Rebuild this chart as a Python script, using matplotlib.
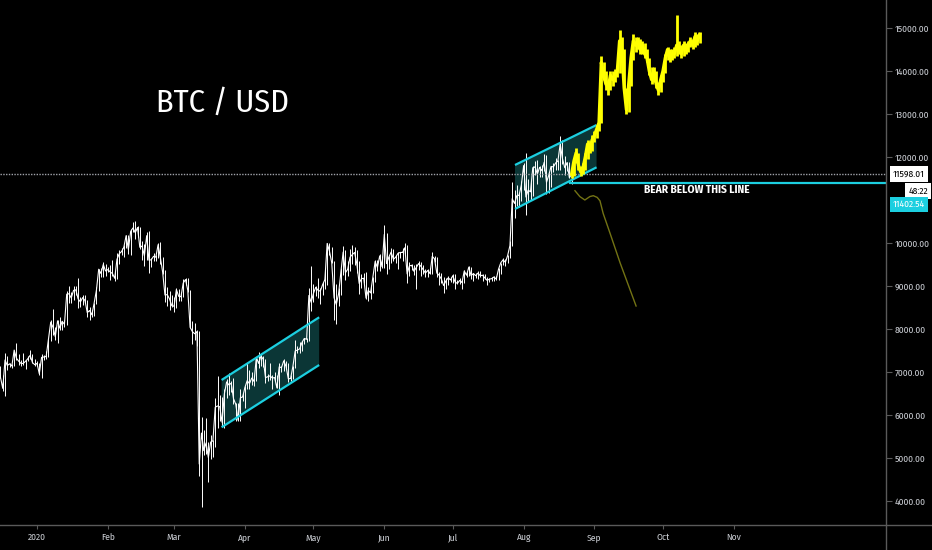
import matplotlib
matplotlib.use("Agg")
import matplotlib.pyplot as plt
import matplotlib.dates as mdates
from matplotlib import font_manager
from matplotlib.font_manager import FontProperties
from matplotlib.textpath import TextPath
from matplotlib.lines import Line2D
from matplotlib.ticker import FixedLocator, FuncFormatter
import pandas as pd

# ── Datos diarios BTC/USD (15 dic 2019 → 22 ago 2020) ────────────────
white_close = [
    7110, 6880, 6620, 7280, 7150, 7190, 7140, 7510, 7320, 7250, 7200, 7200, 7250, 7310, 7390, 7220, 7170,
    7200, 6960, 7340, 7350, 7360, 7760, 8160, 8040, 7820, 8190, 8020, 8180, 8110, 8810, 8820, 8720,
    8900, 8910, 8700, 8630, 8730, 8660, 8380, 8430, 8330, 8600, 8900, 9390, 9290, 9500, 9350,
    9380, 9330, 9290, 9180, 9620, 9750, 9800, 9900, 10170, 9850, 10270, 10350, 10240, 10360, 9900,
    9930, 9700, 10170, 9600, 9610, 9690, 9670, 9960, 9660, 9320, 8790, 8800, 8700, 8540,
    8530, 8920, 8760, 8750, 9070, 9150, 8900, 8040, 7940, 7890, 7940, 4860, 5580, 5170, 5350, 5010,
    5370, 5400, 6180, 6210, 6190, 5830, 6490, 6770, 6700, 6740, 6380, 6250, 5880, 6400, 6420,
    6640, 6800, 6730, 6860, 6780, 7340, 7200, 7370, 7300, 6870, 6890, 6910, 6860, 6870, 6630,
    7120, 7100, 7260, 7130, 6840, 6850, 7130, 7490, 7510, 7540, 7690, 7780, 7760, 8780, 8620,
    8830, 8970, 8900, 8880, 9030, 9150, 9990, 9810, 9540, 8730, 8570, 8820, 9320, 9790, 9310, 9390,
    9670, 9730, 9780, 9510, 9060, 9170, 9180, 8720, 8900, 8840, 9200, 9570, 9430, 9700, 9450,
    10200, 9520, 9670, 9790, 9620, 9670, 9760, 9780, 9780, 9890, 9280, 9470, 9480, 9340, 9430,
    9520, 9460, 9380, 9300, 9360, 9290, 9690, 9630, 9300, 9250, 9160, 9010, 9120, 9190, 9140,
    9240, 9090, 9060, 9130, 9080, 9350, 9250, 9440, 9240, 9290, 9240, 9300, 9240, 9250, 9190, 9130,
    9160, 9170, 9210, 9160, 9390, 9540, 9610, 9550, 9710, 9940, 11030, 10920, 11100, 11110, 11350,
    11800, 11070, 11230, 11190, 11750, 11770, 11600, 11760, 11680, 11880, 11410, 11580, 11780, 11770,
    11860, 11910, 12300, 11960, 11750, 11870, 11520, 11598.01,
]
white_high = [
    7190, 7140, 6940, 7440, 7380, 7220, 7190, 7520, 7680, 7430, 7270, 7440, 7290, 7370, 7520, 7420, 7310,
    7250, 7220, 7410, 7400, 7490, 7790, 8210, 8460, 8050, 8200, 8290, 8190, 8200, 8880, 8990, 8850,
    9010, 9000, 9190, 8740, 8780, 8800, 8670, 8520, 8440, 8610, 8980, 9400, 9420, 9560, 9520,
    9440, 9480, 9600, 9340, 9760, 9840, 9880, 9950, 10180, 10180, 10320, 10480, 10520, 10390, 10380,
    10050, 9980, 10250, 10280, 9660, 9770, 9720, 9990, 10020, 9670, 9370, 8970, 8890, 8790,
    8740, 8950, 8930, 8850, 9160, 9190, 9180, 8900, 8180, 8150, 7970, 7960, 5950, 5640, 5940, 5380,
    5540, 5420, 6400, 6900, 6460, 6410, 6600, 6840, 6980, 6790, 6870, 6290, 6270, 6600, 6520,
    6680, 7200, 7040, 6990, 6880, 7360, 7470, 7420, 7380, 7310, 6950, 7200, 6920, 6990, 6940,
    7200, 7150, 7300, 7260, 7220, 6930, 7150, 7740, 7610, 7700, 7710, 7790, 7790, 8950, 9470,
    9050, 9010, 9190, 8950, 9100, 9390, 9990, 9990, 9900, 9570, 9040, 8960, 9420, 9940, 9840, 9590,
    9870, 9950, 9900, 9840, 9570, 9270, 9300, 9320, 8980, 9020, 9220, 9600, 9600, 9740, 9700,
    10420, 10230, 9690, 9880, 9850, 9730, 9800, 9800, 9880, 9990, 9960, 9560, 9500, 9490, 9500,
    9580, 9560, 9480, 9400, 9400, 9420, 9780, 9690, 9670, 9320, 9300, 9200, 9190, 9230, 9200,
    9290, 9270, 9130, 9180, 9140, 9380, 9360, 9470, 9450, 9300, 9300, 9340, 9350, 9280, 9270, 9210,
    9180, 9200, 9230, 9230, 9430, 9540, 9650, 9630, 9730, 10050, 11410, 11240, 11340, 11170, 11450,
    11860, 12090, 11480, 11420, 11800, 11900, 11920, 11800, 11810, 12070, 12040, 11630, 11800, 11850,
    11970, 11920, 12480, 12390, 12030, 11880, 11880, 11690,
]
white_low = [
    7010, 6860, 6560, 6440, 7040, 7110, 7100, 7130, 7270, 7160, 7130, 7160, 7060, 7250, 7310, 7200, 7130,
    7150, 6920, 6870, 7280, 7310, 7350, 7730, 7870, 7750, 7670, 7970, 7970, 8040, 8100, 8600, 8610,
    8680, 8790, 8480, 8520, 8550, 8600, 8290, 8220, 8280, 8310, 8580, 8880, 9220, 9220, 9230,
    9320, 9150, 9230, 9120, 9170, 9520, 9720, 9670, 9880, 9740, 9710, 10250, 10090, 10140, 9850,
    9610, 9460, 9600, 9300, 9440, 9570, 9590, 9650, 9510, 9270, 8620, 8540, 8450, 8520,
    8400, 8500, 8660, 8650, 8750, 9020, 8860, 8030, 7640, 7740, 7600, 4580, 3850, 5080, 5100, 4440,
    4980, 5020, 5250, 5690, 5860, 5740, 5690, 6400, 6460, 6530, 6260, 5860, 5870, 5870, 6330,
    6160, 6600, 6610, 6690, 6680, 6780, 7090, 7150, 7110, 6750, 6780, 6810, 6600, 6790, 6620,
    6470, 7010, 7030, 7060, 6760, 6790, 6830, 7100, 7450, 7450, 7500, 7640, 7690, 7730, 8420,
    8620, 8760, 8720, 8580, 8780, 8940, 9030, 9720, 9530, 8200, 8120, 8540, 8800, 9260, 9150, 9230,
    9360, 9500, 9480, 9300, 8820, 8960, 9080, 8700, 8640, 8690, 8830, 9100, 9340, 9350, 9420,
    9420, 9270, 9400, 9530, 9580, 9540, 9390, 9640, 9570, 9730, 9070, 9240, 9370, 9250, 8920,
    9380, 9240, 9280, 9200, 9200, 9280, 9280, 9560, 9200, 9020, 9060, 8840, 8940, 9020, 9090,
    9080, 8940, 9040, 9050, 8940, 9060, 9220, 9240, 9160, 9120, 9190, 9170, 9200, 9120, 9160, 9020,
    9090, 9120, 9110, 9140, 9150, 9280, 9490, 9460, 9540, 9650, 9920, 10580, 10860, 10840, 10980,
    11230, 10660, 10970, 11000, 11100, 11580, 11370, 11530, 11530, 11680, 11130, 11160, 11300, 11640,
    11690, 11690, 11690, 11830, 11570, 11680, 11510, 11380,
]

# ── Proyección alcista (amarillo, 22 ago → 17 oct) ────────────────────
yellow_close = [
    11598, 11900, 12100, 11800, 11650, 11750, 12000, 12300, 12200, 12400,
    12500, 12650, 12800, 14200, 13900, 13700, 13600, 13900, 13800, 13900, 14000, 14700, 14500, 13600,
    13100, 13700, 14300, 14700, 14600, 14700, 14500, 14600, 14400, 14300, 14000, 13800, 14000, 13700,
    13550, 13800,
    14000, 14300, 14500, 14300, 14400, 14400, 14600, 14500, 14400, 14600, 14500, 14600, 14700, 14600,
    14800, 14700, 14850,
]
yellow_high = [
    11690, 11980, 12200, 12100, 11800, 11850, 12100, 12400, 12350, 12500,
    12600, 12750, 13000, 14350, 14200, 14000, 13800, 14000, 14000, 14050, 14100, 14950, 14800, 14500,
    13600, 13900, 14400, 14850, 14800, 14800, 14750, 14700, 14650, 14500, 14300, 14100, 14100, 14000,
    13750, 13900,
    14100, 14400, 14550, 14500, 14500, 14550, 15300, 14700, 14600, 14700, 14650, 14700, 14800, 14750,
    14900, 14850, 14900,
]
yellow_low = [
    11500, 11550, 11850, 11700, 11550, 11600, 11700, 11950, 12100, 12150,
    12350, 12450, 12600, 12800, 13800, 13550, 13450, 13550, 13650, 13750, 13850, 13950, 14400, 13500,
    13000, 13050, 13650, 14250, 14450, 14500, 14400, 14400, 14300, 14200, 13900, 13700, 13750, 13600,
    13450, 13500,
    13750, 13950, 14250, 14200, 14250, 14300, 14350, 14400, 14300, 14350, 14400, 14450, 14550, 14500,
    14550, 14600, 14650,
]

# ── Dibujos: canales, línea bajista, trayectoria bajista ──────────────
chan1_dates = ["2020-03-21 19:00", "2020-05-03 12:00"]
chan1_upper = [6814, 8272]
chan1_lower = [5714, 7163]
chan2_dates = ["2020-07-28 05:00", "2020-09-01 22:00"]
chan2_upper = [11814, 12744]
chan2_lower = [10791, 11760]

last_price = 11598.01
bear_level = 11402.54
bear_start = "2020-08-21 07:00"

bear_path_dates = ["2020-08-23 11:00", "2020-08-25 14:00", "2020-08-27 19:00", "2020-08-30 00:00",
                   "2020-08-31 12:00", "2020-09-02 05:00", "2020-09-03 10:00", "2020-09-04 19:00",
                   "2020-09-07 19:00", "2020-09-12 05:00", "2020-09-19 05:00"]
bear_path_price = [11216, 11080, 11000, 11080, 11100, 11060, 10980, 10690, 10230, 9540, 8535]

month_ticks = pd.date_range("2020-01-01", "2020-11-01", freq="MS")
price_ticks = [4000, 5000, 6000, 7000, 8000, 9000, 10000, 12000, 13000, 14000, 15000]

# ── Fuente: la estrecha cuyas proporciones se parecen más al original ─
_names = {f.name for f in font_manager.fontManager.ttflist}
_cands = [n for n in ["Archivo Narrow", "Roboto Condensed", "Fira Sans Condensed", "PT Sans Narrow",
                      "Asap Condensed", "Barlow Semi Condensed", "Encode Sans Condensed",
                      "IBM Plex Sans Condensed", "Open Sans Condensed", "Pragati Narrow"]
          if n in _names] or ["DejaVu Sans"]


def ink(text, fam, weight="normal"):
    return TextPath((0, 0), text, size=10, prop=FontProperties(family=fam, weight=weight)).get_extents()


def ratio(fam):
    return ink("BTC / USD", fam).width / ink("BTCUSD", fam).height


FONT = min(_cands, key=lambda f: abs(ratio(f) - 5.57))
plt.rcParams["font.family"] = [FONT, "DejaVu Sans"]


def size_for_width(text, px, weight="normal"):
    return 10 * px / ink(text, FONT, weight).width * 0.72


FS_TITLE = 10 * 23 / ink("BTCUSD", FONT).height * 0.72
FS_TICK = min(size_for_width("15000.00", 34), 9)
FS_BEAR = size_for_width("BEAR BELOW THIS LINE", 105, "bold")

# ── Colores ──────────────────────────────────────────────────────────
C_BG = "black"
C_CYAN = "#1ccfe0"
C_FILL = "#0b3636"
C_YEL = "#ffff00"
C_OLIVE = "#737314"
C_AXIS = "#5a5a5a"
C_TXT = "#c9ccd2"

W, H = 932, 550
fig = plt.figure(figsize=(W / 100, H / 100), dpi=100, facecolor=C_BG)
ax = fig.add_axes([0, 25 / H, 886 / W, 525 / H])
ax.set_facecolor(C_BG)

wd = pd.date_range("2019-12-15", periods=len(white_close), freq="D")
yd = pd.date_range("2020-08-22", periods=len(yellow_close), freq="D")

# canales
chans = [(chan1_dates, chan1_upper, chan1_lower), (chan2_dates, chan2_upper, chan2_lower)]
for dts, up, lo in chans:
    d = pd.to_datetime(dts)
    ax.fill([d[0], d[1], d[1], d[0]], [up[0], up[1], lo[1], lo[0]], color=C_FILL, lw=0, zorder=1)

# velas blancas (mecha + cierre)
ax.vlines(wd, white_low, white_high, colors="white", lw=0.7, zorder=2)
ax.plot(wd, white_close, color="white", lw=0.8, zorder=2)

for dts, up, lo in chans:
    d = pd.to_datetime(dts)
    ax.plot(d, up, color=C_CYAN, lw=1.6, zorder=4, solid_capstyle="butt")
    ax.plot(d, lo, color=C_CYAN, lw=1.6, zorder=4, solid_capstyle="butt")

# proyección amarilla
ax.vlines(yd, yellow_low, yellow_high, colors=C_YEL, lw=2.0, zorder=5)
ax.plot(yd, yellow_close, color=C_YEL, lw=2.4, zorder=5)

# trayectoria bajista
ax.plot(pd.to_datetime(bear_path_dates), bear_path_price, color=C_OLIVE, lw=1.0, zorder=3)

# niveles horizontales
ax.axhline(last_price, color="#a0a3aa", lw=1.0, ls=(0, (1, 1)), zorder=3)
x_end = pd.Timestamp("2020-01-01") + pd.Timedelta(days=371.6)
ax.plot([pd.Timestamp(bear_start), x_end], [bear_level, bear_level], color=C_CYAN, lw=1.6, zorder=4)
ax.text(pd.Timestamp("2020-10-16"), 11170, "BEAR BELOW THIS LINE", color="white",
        fontsize=FS_BEAR, fontweight="bold", ha="center", va="baseline", zorder=6)

# título
ax.text(222 / 886, 1 - 111.5 / 525, "BTC / USD", transform=ax.transAxes, color="white",
        fontsize=FS_TITLE, ha="center", va="baseline")

# ── Ejes ─────────────────────────────────────────────────────────────
ax.set_xlim(pd.Timestamp("2020-01-01") - pd.Timedelta(days=16.2), x_end)
ax.set_ylim(3442, 15651)

ax.xaxis.set_major_locator(FixedLocator(mdates.date2num(month_ticks)))
ax.xaxis.set_major_formatter(FuncFormatter(
    lambda v, p: "2020" if mdates.num2date(v).month == 1 else mdates.num2date(v).strftime("%b")))
ax.yaxis.tick_right()
ax.set_yticks(price_ticks)
ax.yaxis.set_major_formatter(FuncFormatter(lambda v, p: f"{v:.2f}"))

ax.tick_params(axis="x", colors=C_AXIS, labelcolor=C_TXT, labelsize=FS_TICK, length=3, pad=3)
ax.tick_params(axis="y", colors=C_AXIS, labelcolor=C_TXT, labelsize=FS_TICK, length=4, pad=2)
for s in ax.spines.values():
    s.set_visible(False)

fig.add_artist(Line2D([886 / W, 886 / W], [0, 1], color=C_AXIS, lw=1, transform=fig.transFigure))
fig.add_artist(Line2D([0, 1], [25 / H, 25 / H], color=C_AXIS, lw=1, transform=fig.transFigure))

# etiquetas de precio en el eje
ytr = ax.get_yaxis_transform()
ax.annotate(f"{last_price:.2f}", xy=(1, last_price), xycoords=ytr, xytext=(7, 0),
            textcoords="offset pixels", ha="left", va="center", fontsize=FS_TICK, color="black",
            bbox=dict(boxstyle="square,pad=0.35", fc="white", ec="none"), annotation_clip=False)
ax.annotate("48:22", xy=(1, last_price), xycoords=ytr, xytext=(42, -17),
            textcoords="offset pixels", ha="right", va="center", fontsize=FS_TICK, color="black",
            bbox=dict(boxstyle="square,pad=0.35", fc="white", ec="none"), annotation_clip=False)
ax.annotate(f"{bear_level:.2f}", xy=(1, bear_level), xycoords=ytr, xytext=(7, -22),
            textcoords="offset pixels", ha="left", va="center", fontsize=FS_TICK, color="white",
            bbox=dict(boxstyle="square,pad=0.35", fc=C_CYAN, ec="none"), annotation_clip=False)

fig.savefig("out.png", dpi=100, facecolor=C_BG)
